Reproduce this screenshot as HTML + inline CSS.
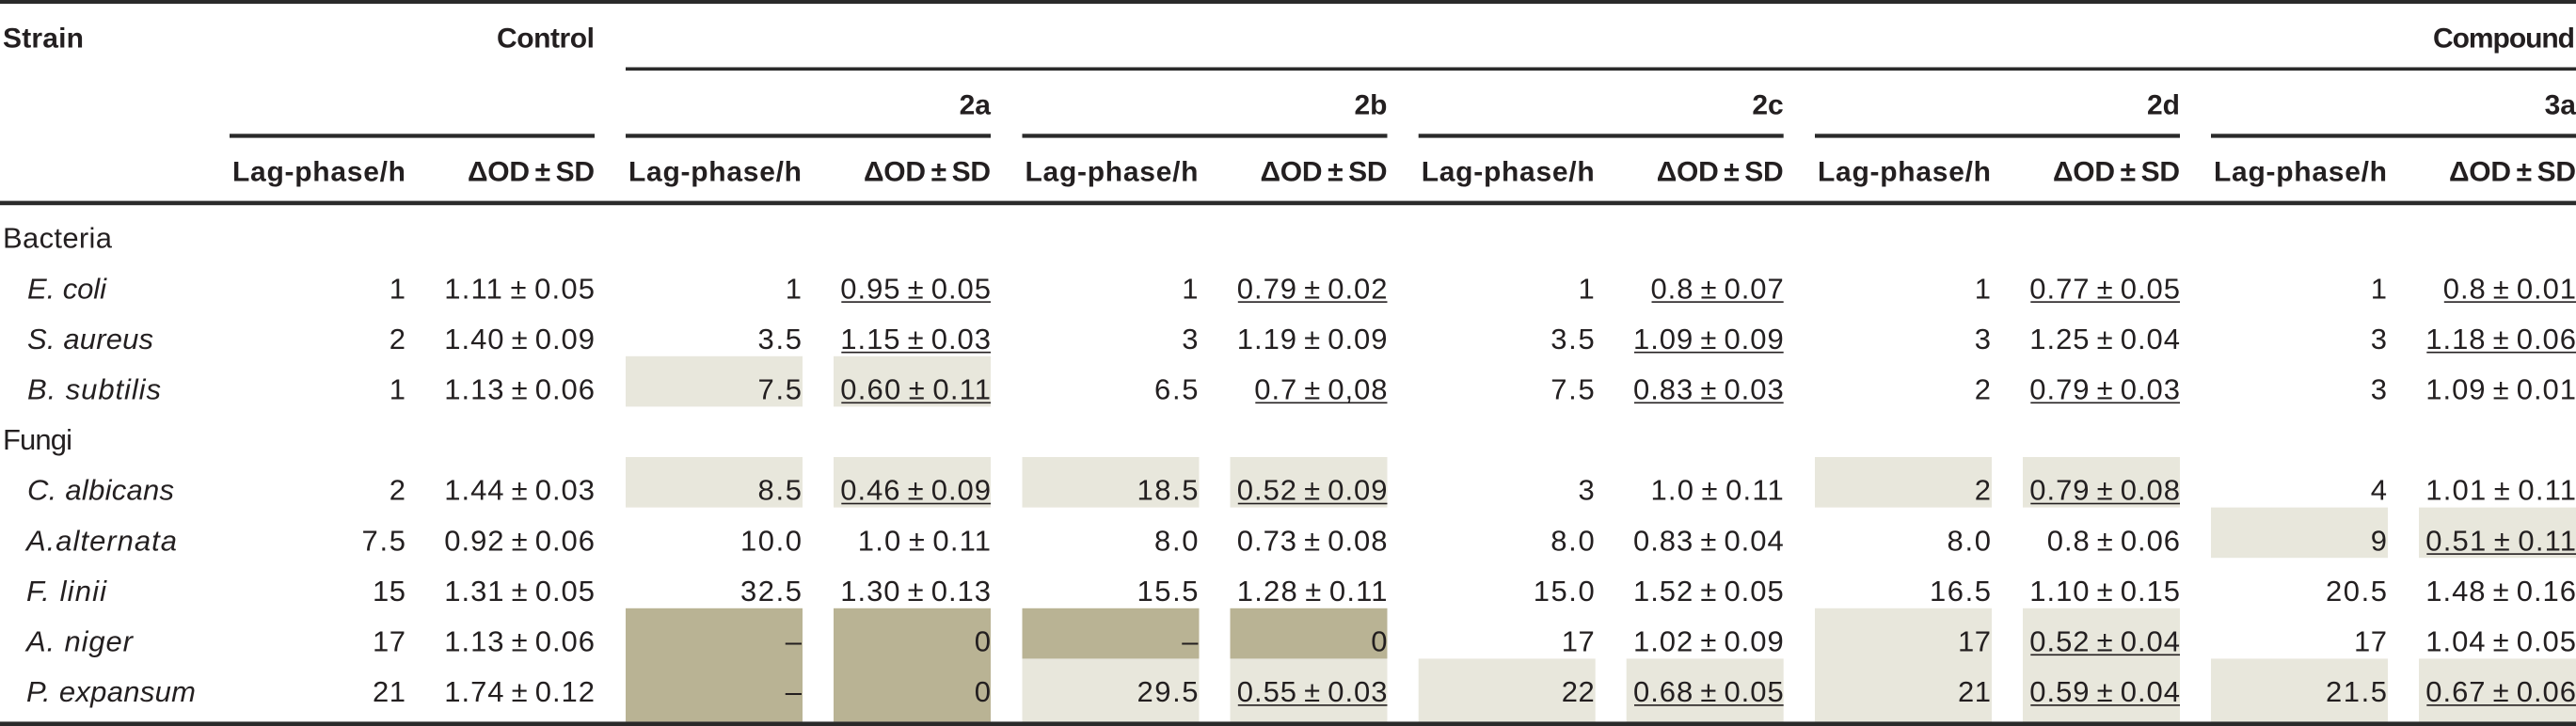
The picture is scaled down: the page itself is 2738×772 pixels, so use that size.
<!DOCTYPE html>
<html><head><meta charset="utf-8"><style>
html,body{margin:0;padding:0;background:#fff;}
svg{display:block}
text{font-family:"Liberation Sans",Arial,sans-serif;fill:#231f20;font-size:31px}
.h{font-weight:bold;font-size:30px}
.e{text-anchor:end}
.i{font-style:italic}
</style></head><body>
<svg xmlns="http://www.w3.org/2000/svg" width="2738" height="772" viewBox="0 0 2738 772">
<rect x="0" y="0" width="2738" height="772" fill="#fff"/>
<!-- highlight boxes -->
<g fill="#e8e7dc">
<rect x="665" y="378.8" width="188" height="53.6"/><rect x="886" y="378.8" width="167" height="53.6"/>
<rect x="665" y="486" width="188" height="53.6"/><rect x="886" y="486" width="167" height="53.6"/>
<rect x="1086.5" y="486" width="188" height="53.6"/><rect x="1307.5" y="486" width="167" height="53.6"/>
<rect x="1086.5" y="700.4" width="188" height="67"/><rect x="1307.5" y="700.4" width="167" height="67"/>
<rect x="1507.7" y="700.4" width="188" height="67"/><rect x="1728.7" y="700.4" width="167" height="67"/>
<rect x="1929" y="486" width="188" height="53.6"/><rect x="2150" y="486" width="167" height="53.6"/>
<rect x="1929" y="646.8" width="188" height="120.6"/><rect x="2150" y="646.8" width="167" height="120.6"/>
<rect x="2350" y="539.6" width="188" height="53.6"/><rect x="2571" y="539.6" width="167" height="53.6"/>
<rect x="2350" y="700.4" width="188" height="67"/><rect x="2571" y="700.4" width="167" height="67"/>
</g>
<g fill="#b9b394">
<rect x="665" y="646.8" width="188" height="120.6"/><rect x="886" y="646.8" width="167" height="120.6"/>
<rect x="1086.5" y="646.8" width="188" height="53.6"/><rect x="1307.5" y="646.8" width="167" height="53.6"/>
</g>
<!-- rules -->
<g fill="#2a2a2a">
<rect x="0" y="0" width="2738" height="4"/>
<rect x="665" y="71.5" width="2073" height="3.6"/>
<rect x="244" y="142.3" width="388" height="4.3"/>
<rect x="665" y="142.3" width="388" height="4.3"/>
<rect x="1086.5" y="142.3" width="388" height="4.3"/>
<rect x="1507.7" y="142.3" width="388" height="4.3"/>
<rect x="1929" y="142.3" width="388" height="4.3"/>
<rect x="2350" y="142.3" width="388" height="4.3"/>
<rect x="0" y="213.6" width="2738" height="4.6"/>
<rect x="0" y="767.4" width="2738" height="4.6"/>
</g>
<!-- value underlines -->
<g fill="#231f20">
<rect x="894.3" y="320.3" width="158.7" height="1.6"/>
<rect x="1315.8" y="320.3" width="158.7" height="1.6"/>
<rect x="1755.5" y="320.3" width="140.2" height="1.6"/>
<rect x="2158.3" y="320.3" width="158.7" height="1.6"/>
<rect x="2597.8" y="320.3" width="140.2" height="1.6"/>
<rect x="894.3" y="373.9" width="158.7" height="1.6"/>
<rect x="1737" y="373.9" width="158.7" height="1.6"/>
<rect x="2579.3" y="373.9" width="158.7" height="1.6"/>
<rect x="894.3" y="427.5" width="158.7" height="1.6"/>
<rect x="1334.3" y="427.5" width="140.2" height="1.6"/>
<rect x="1737" y="427.5" width="158.7" height="1.6"/>
<rect x="2158.3" y="427.5" width="158.7" height="1.6"/>
<rect x="894.3" y="534.7" width="158.7" height="1.6"/>
<rect x="1315.8" y="534.7" width="158.7" height="1.6"/>
<rect x="2158.3" y="534.7" width="158.7" height="1.6"/>
<rect x="2579.3" y="588.3" width="158.7" height="1.6"/>
<rect x="2158.3" y="695.5" width="158.7" height="1.6"/>
<rect x="1315.8" y="749.1" width="158.7" height="1.6"/>
<rect x="1737" y="749.1" width="158.7" height="1.6"/>
<rect x="2158.3" y="749.1" width="158.7" height="1.6"/>
<rect x="2579.3" y="749.1" width="158.7" height="1.6"/>
</g>
<!-- header -->
<text class="h" x="3" y="50.5" textLength="86">Strain</text>
<text class="h e" x="632" y="50.5" textLength="104">Control</text>
<text class="h e" x="2737" y="50.5" textLength="151">Compound</text>
<text class="h e" x="1053" y="121.7">2a</text>
<text class="h e" x="1474.5" y="121.7">2b</text>
<text class="h e" x="1895.7" y="121.7">2c</text>
<text class="h e" x="2317" y="121.7">2d</text>
<text class="h e" x="2738" y="121.7">3a</text>
<text class="h" x="247" y="192.7" textLength="184">Lag-phase/h</text>
<text class="h e" x="632" y="192.7" textLength="135">ΔOD&#8201;±&#8201;SD</text>
<text class="h" x="668" y="192.7" textLength="184">Lag-phase/h</text>
<text class="h e" x="1053" y="192.7" textLength="135">ΔOD&#8201;±&#8201;SD</text>
<text class="h" x="1089.5" y="192.7" textLength="184">Lag-phase/h</text>
<text class="h e" x="1474.5" y="192.7" textLength="135">ΔOD&#8201;±&#8201;SD</text>
<text class="h" x="1510.7" y="192.7" textLength="184">Lag-phase/h</text>
<text class="h e" x="1895.7" y="192.7" textLength="135">ΔOD&#8201;±&#8201;SD</text>
<text class="h" x="1932" y="192.7" textLength="184">Lag-phase/h</text>
<text class="h e" x="2317" y="192.7" textLength="135">ΔOD&#8201;±&#8201;SD</text>
<text class="h" x="2353" y="192.7" textLength="184">Lag-phase/h</text>
<text class="h e" x="2738" y="192.7" textLength="135">ΔOD&#8201;±&#8201;SD</text>
<!-- group labels -->
<text x="3" y="263.7" textLength="116">Bacteria</text>
<text x="3" y="478.1" textLength="74">Fungi</text>
<!-- species -->
<text class="i" x="29" y="317.3" textLength="84">E. coli</text>
<text class="i" x="29" y="370.9" textLength="134">S. aureus</text>
<text class="i" x="29" y="424.5" textLength="142">B. subtilis</text>
<text class="i" x="29" y="531.7" textLength="156">C. albicans</text>
<text class="i" x="28" y="585.3" textLength="160">A.alternata</text>
<text class="i" x="28" y="638.9" textLength="85">F. linii</text>
<text class="i" x="28" y="692.5" textLength="113">A. niger</text>
<text class="i" x="28" y="746.1" textLength="180">P. expansum</text>

<!-- row 0 E. coli -->
<text class="e" x="431" y="317.3">1</text>
<text class="e" x="632" y="317.3" textLength="159.7">1.11&#8201;±&#8201;0.05</text>
<text class="e" x="852" y="317.3">1</text>
<text class="e" x="1053" y="317.3" textLength="159.7">0.95&#8201;±&#8201;0.05</text>
<text class="e" x="1273.5" y="317.3">1</text>
<text class="e" x="1474.5" y="317.3" textLength="159.7">0.79&#8201;±&#8201;0.02</text>
<text class="e" x="1694.7" y="317.3">1</text>
<text class="e" x="1895.7" y="317.3" textLength="141.2">0.8&#8201;±&#8201;0.07</text>
<text class="e" x="2116" y="317.3">1</text>
<text class="e" x="2317" y="317.3" textLength="159.7">0.77&#8201;±&#8201;0.05</text>
<text class="e" x="2537" y="317.3">1</text>
<text class="e" x="2738" y="317.3" textLength="141.2">0.8&#8201;±&#8201;0.01</text>

<!-- row 1 S. aureus -->
<text class="e" x="431" y="370.9">2</text>
<text class="e" x="632" y="370.9" textLength="159.7">1.40&#8201;±&#8201;0.09</text>
<text class="e" x="852" y="370.9" textLength="46.5">3.5</text>
<text class="e" x="1053" y="370.9" textLength="159.7">1.15&#8201;±&#8201;0.03</text>
<text class="e" x="1273.5" y="370.9">3</text>
<text class="e" x="1474.5" y="370.9" textLength="159.7">1.19&#8201;±&#8201;0.09</text>
<text class="e" x="1694.7" y="370.9" textLength="46.5">3.5</text>
<text class="e" x="1895.7" y="370.9" textLength="159.7">1.09&#8201;±&#8201;0.09</text>
<text class="e" x="2116" y="370.9">3</text>
<text class="e" x="2317" y="370.9" textLength="159.7">1.25&#8201;±&#8201;0.04</text>
<text class="e" x="2537" y="370.9">3</text>
<text class="e" x="2738" y="370.9" textLength="159.7">1.18&#8201;±&#8201;0.06</text>

<!-- row 2 B. subtilis -->
<text class="e" x="431" y="424.5">1</text>
<text class="e" x="632" y="424.5" textLength="159.7">1.13&#8201;±&#8201;0.06</text>
<text class="e" x="852" y="424.5" textLength="46.5">7.5</text>
<text class="e" x="1053" y="424.5" textLength="159.7">0.60&#8201;±&#8201;0.11</text>
<text class="e" x="1273.5" y="424.5" textLength="46.5">6.5</text>
<text class="e" x="1474.5" y="424.5" textLength="141.2">0.7&#8201;±&#8201;0,08</text>
<text class="e" x="1694.7" y="424.5" textLength="46.5">7.5</text>
<text class="e" x="1895.7" y="424.5" textLength="159.7">0.83&#8201;±&#8201;0.03</text>
<text class="e" x="2116" y="424.5">2</text>
<text class="e" x="2317" y="424.5" textLength="159.7">0.79&#8201;±&#8201;0.03</text>
<text class="e" x="2537" y="424.5">3</text>
<text class="e" x="2738" y="424.5" textLength="159.7">1.09&#8201;±&#8201;0.01</text>

<!-- row 4 C. albicans -->
<text class="e" x="431" y="531.7">2</text>
<text class="e" x="632" y="531.7" textLength="159.7">1.44&#8201;±&#8201;0.03</text>
<text class="e" x="852" y="531.7" textLength="46.5">8.5</text>
<text class="e" x="1053" y="531.7" textLength="159.7">0.46&#8201;±&#8201;0.09</text>
<text class="e" x="1273.5" y="531.7" textLength="65">18.5</text>
<text class="e" x="1474.5" y="531.7" textLength="159.7">0.52&#8201;±&#8201;0.09</text>
<text class="e" x="1694.7" y="531.7">3</text>
<text class="e" x="1895.7" y="531.7" textLength="141.2">1.0&#8201;±&#8201;0.11</text>
<text class="e" x="2116" y="531.7">2</text>
<text class="e" x="2317" y="531.7" textLength="159.7">0.79&#8201;±&#8201;0.08</text>
<text class="e" x="2537" y="531.7">4</text>
<text class="e" x="2738" y="531.7" textLength="159.7">1.01&#8201;±&#8201;0.11</text>

<!-- row 5 A.alternata -->
<text class="e" x="431" y="585.3" textLength="46.5">7.5</text>
<text class="e" x="632" y="585.3" textLength="159.7">0.92&#8201;±&#8201;0.06</text>
<text class="e" x="852" y="585.3" textLength="65">10.0</text>
<text class="e" x="1053" y="585.3" textLength="141.2">1.0&#8201;±&#8201;0.11</text>
<text class="e" x="1273.5" y="585.3" textLength="46.5">8.0</text>
<text class="e" x="1474.5" y="585.3" textLength="159.7">0.73&#8201;±&#8201;0.08</text>
<text class="e" x="1694.7" y="585.3" textLength="46.5">8.0</text>
<text class="e" x="1895.7" y="585.3" textLength="159.7">0.83&#8201;±&#8201;0.04</text>
<text class="e" x="2116" y="585.3" textLength="46.5">8.0</text>
<text class="e" x="2317" y="585.3" textLength="141.2">0.8&#8201;±&#8201;0.06</text>
<text class="e" x="2537" y="585.3">9</text>
<text class="e" x="2738" y="585.3" textLength="159.7">0.51&#8201;±&#8201;0.11</text>

<!-- row 6 F. linii -->
<text class="e" x="431" y="638.9" textLength="35">15</text>
<text class="e" x="632" y="638.9" textLength="159.7">1.31&#8201;±&#8201;0.05</text>
<text class="e" x="852" y="638.9" textLength="65">32.5</text>
<text class="e" x="1053" y="638.9" textLength="159.7">1.30&#8201;±&#8201;0.13</text>
<text class="e" x="1273.5" y="638.9" textLength="65">15.5</text>
<text class="e" x="1474.5" y="638.9" textLength="159.7">1.28&#8201;±&#8201;0.11</text>
<text class="e" x="1694.7" y="638.9" textLength="65">15.0</text>
<text class="e" x="1895.7" y="638.9" textLength="159.7">1.52&#8201;±&#8201;0.05</text>
<text class="e" x="2116" y="638.9" textLength="65">16.5</text>
<text class="e" x="2317" y="638.9" textLength="159.7">1.10&#8201;±&#8201;0.15</text>
<text class="e" x="2537" y="638.9" textLength="65">20.5</text>
<text class="e" x="2738" y="638.9" textLength="159.7">1.48&#8201;±&#8201;0.16</text>

<!-- row 7 A. niger -->
<text class="e" x="431" y="692.5" textLength="35">17</text>
<text class="e" x="632" y="692.5" textLength="159.7">1.13&#8201;±&#8201;0.06</text>
<text class="e" x="852" y="692.5">–</text>
<text class="e" x="1053" y="692.5">0</text>
<text class="e" x="1273.5" y="692.5">–</text>
<text class="e" x="1474.5" y="692.5">0</text>
<text class="e" x="1694.7" y="692.5" textLength="35">17</text>
<text class="e" x="1895.7" y="692.5" textLength="159.7">1.02&#8201;±&#8201;0.09</text>
<text class="e" x="2116" y="692.5" textLength="35">17</text>
<text class="e" x="2317" y="692.5" textLength="159.7">0.52&#8201;±&#8201;0.04</text>
<text class="e" x="2537" y="692.5" textLength="35">17</text>
<text class="e" x="2738" y="692.5" textLength="159.7">1.04&#8201;±&#8201;0.05</text>

<!-- row 8 P. expansum -->
<text class="e" x="431" y="746.1" textLength="35">21</text>
<text class="e" x="632" y="746.1" textLength="159.7">1.74&#8201;±&#8201;0.12</text>
<text class="e" x="852" y="746.1">–</text>
<text class="e" x="1053" y="746.1">0</text>
<text class="e" x="1273.5" y="746.1" textLength="65">29.5</text>
<text class="e" x="1474.5" y="746.1" textLength="159.7">0.55&#8201;±&#8201;0.03</text>
<text class="e" x="1694.7" y="746.1" textLength="35">22</text>
<text class="e" x="1895.7" y="746.1" textLength="159.7">0.68&#8201;±&#8201;0.05</text>
<text class="e" x="2116" y="746.1" textLength="35">21</text>
<text class="e" x="2317" y="746.1" textLength="159.7">0.59&#8201;±&#8201;0.04</text>
<text class="e" x="2537" y="746.1" textLength="65">21.5</text>
<text class="e" x="2738" y="746.1" textLength="159.7">0.67&#8201;±&#8201;0.06</text>
</svg>
</body></html>
